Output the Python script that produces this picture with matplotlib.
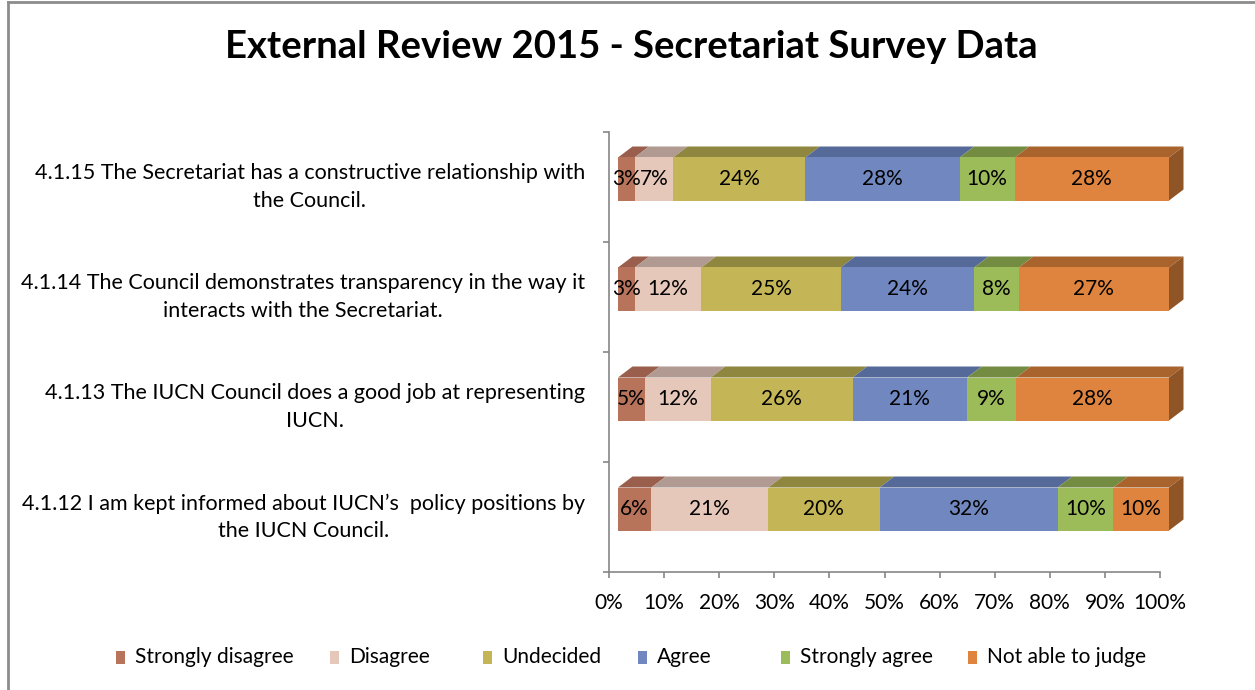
import matplotlib
matplotlib.use("Agg")
import matplotlib.pyplot as plt
from matplotlib.patches import Polygon, Rectangle
from matplotlib.lines import Line2D

# Survey statements, bottom row first
questions = [
    "4.1.12 I am kept informed about IUCN\u2019s  policy positions by\nthe IUCN Council.",
    "4.1.13 The IUCN Council does a good job at representing\nIUCN.",
    "4.1.14 The Council demonstrates transparency in the way it\ninteracts with the Secretariat.",
    "4.1.15 The Secretariat has a constructive relationship with\nthe Council.",
]
categories = ["Strongly disagree", "Disagree", "Undecided", "Agree",
              "Strongly agree", "Not able to judge"]

# Percentages per answer, same row order as questions
strongly_disagree = [6, 5, 3, 3]
disagree = [21, 12, 12, 7]
undecided = [20, 26, 25, 24]
agree = [32, 21, 24, 28]
strongly_agree = [10, 9, 8, 10]
not_able_to_judge = [10, 28, 27, 28]

x_ticks = [0, 10, 20, 30, 40, 50, 60, 70, 80, 90, 100]
x_tick_labels = [f"{t}%" for t in x_ticks]

series = [strongly_disagree, disagree, undecided, agree,
          strongly_agree, not_able_to_judge]
front_colors = ["#B8735B", "#E6C8BB", "#C4B656", "#7087C0", "#9CBB59", "#DE843E"]
top_colors = ["#9A5F4C", "#B09A91", "#8F873F", "#556A99", "#748B42", "#A9642E"]
side_color = "#8F5526"

FONT = "Lato"
plt.rcParams["font.family"] = [FONT, "DejaVu Sans"]
TXT = 15

W, H, DPI = 1255, 690, 100
fig = plt.figure(figsize=(W / DPI, H / DPI), dpi=DPI)
fig.patch.set_facecolor("white")

# axes placed in pixel terms
ax_l, ax_r, ax_t, ax_b = 609, 1160, 132, 572
ax = fig.add_axes([ax_l / W, 1 - ax_b / H, (ax_r - ax_l) / W, (ax_b - ax_t) / H])
ax.set_xlim(0, 100)
ax.set_ylim(-0.5, len(questions) - 0.5)
ax.patch.set_alpha(0)

px_x = 100 / (ax_r - ax_l)             # data units per pixel, horizontal
px_y = len(questions) / (ax_b - ax_t)  # data units per pixel, vertical

front_dx = 9.0 * px_x
front_dy = 8.0 * px_y
bar_h = 43 * px_y
depth_dx = 14.5 * px_x
depth_dy = 11.0 * px_y

axis_gray = "#868686"

for row in range(len(questions)):
    vals = [s[row] for s in series]
    total = float(sum(vals))
    left = 0.0
    yc = row + front_dy
    y0, y1 = yc - bar_h / 2, yc + bar_h / 2
    for k, v in enumerate(vals):
        w = v / total * 100
        x0 = left + front_dx
        x1 = x0 + w
        bars = ax.barh(yc, w, left=x0, height=bar_h, color=front_colors[k],
                       linewidth=0, zorder=3)
        for b in bars:
            b.set_clip_on(False)
        top = Polygon([(x0, y1), (x1, y1), (x1 + depth_dx, y1 + depth_dy),
                       (x0 + depth_dx, y1 + depth_dy)], closed=True,
                      facecolor=top_colors[k], edgecolor="none", zorder=2,
                      clip_on=False)
        ax.add_patch(top)
        if k == len(vals) - 1:
            side = Polygon([(x1, y0), (x1, y1), (x1 + depth_dx, y1 + depth_dy),
                            (x1 + depth_dx, y0 + depth_dy)], closed=True,
                           facecolor=side_color, edgecolor="none", zorder=2,
                           clip_on=False)
            ax.add_patch(side)
        ax.text((x0 + x1) / 2, yc, f"{v}%", ha="center", va="center",
                fontsize=TXT, color="black", zorder=4, clip_on=False)
        left += w

# axes styling
for sp in ["top", "right"]:
    ax.spines[sp].set_visible(False)
for sp in ["left", "bottom"]:
    ax.spines[sp].set_color(axis_gray)
    ax.spines[sp].set_linewidth(1.2)
ax.set_xticks(x_ticks)
ax.set_xticklabels(x_tick_labels, fontsize=TXT)
ax.set_yticks([i - 0.5 for i in range(len(questions) + 1)])
ax.set_yticklabels([])
ax.tick_params(axis="both", direction="out", length=4, width=1.2,
               color=axis_gray)
ax.tick_params(axis="x", pad=11)

for row, q in enumerate(questions):
    ax.annotate(q, xy=(0, row), xycoords="data", xytext=(-24 * 0.72, 0),
                textcoords="offset points", ha="right", va="center",
                multialignment="center", fontsize=15.5, linespacing=1.45)

fig.text(631 / W, 1 - 47 / H, "External Review 2015 - Secretariat Survey Data",
         ha="center", va="center", fontsize=27.5, fontweight="bold")

# legend drawn along the bottom
leg_y = 657
marker_x = [116, 330, 483, 638, 781, 968]
for k, name in enumerate(categories):
    mx = marker_x[k]
    fig.patches.append(Rectangle((mx / W, 1 - (leg_y + 6.5) / H), 9 / W, 13 / H,
                                 transform=fig.transFigure, facecolor=front_colors[k],
                                 edgecolor="none"))
    fig.text((mx + 19) / W, 1 - leg_y / H, name, ha="left", va="center",
             fontsize=TXT)

# chart area frame (top and left edges)
fig.add_artist(Line2D([7.5 / W, 7.5 / W], [0, 1 - 1.5 / H], transform=fig.transFigure,
                      color="#8c8c8c", linewidth=2))
fig.add_artist(Line2D([7.5 / W, 1], [1 - 1.5 / H, 1 - 1.5 / H], transform=fig.transFigure,
                      color="#8c8c8c", linewidth=2))

fig.savefig("out.png", dpi=DPI, facecolor="white")
